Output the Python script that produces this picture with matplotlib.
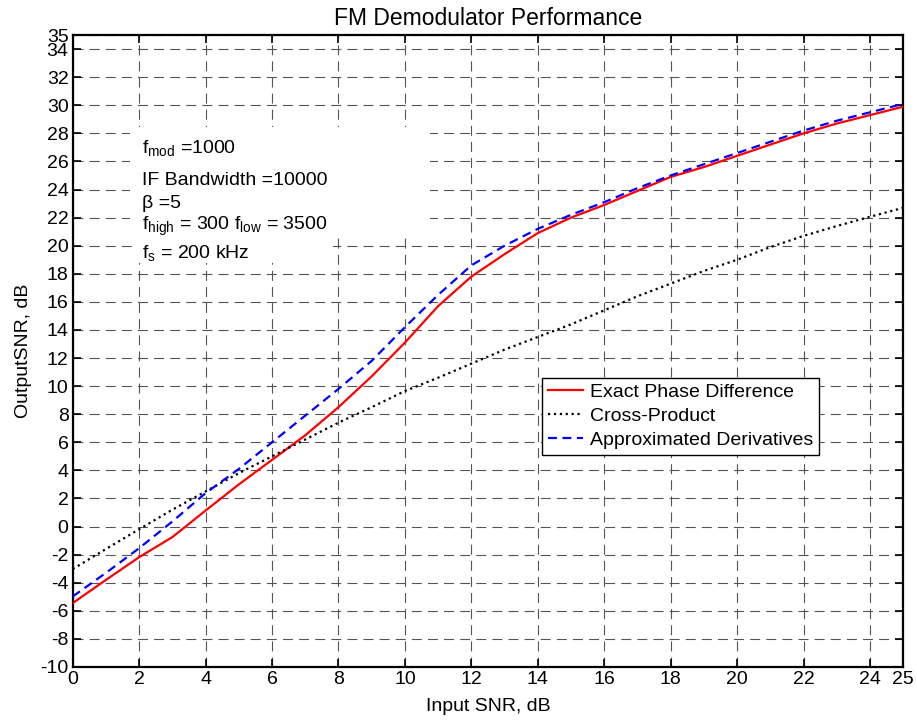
import matplotlib.pyplot as plt
from matplotlib.patches import Rectangle

plt.rcParams['font.family'] = ['Liberation Sans', 'DejaVu Sans']
plt.rcParams['mathtext.fontset'] = 'custom'
plt.rcParams['mathtext.rm'] = 'Liberation Sans'
plt.rcParams['mathtext.it'] = 'Liberation Sans'
plt.rcParams['axes.unicode_minus'] = False

# Data
input_snr = list(range(0, 26))
exact_phase = [-5.45, -3.8, -2.18, -0.75, 1.14, 3.0, 4.75, 6.5, 8.5, 10.7,
               13.1, 15.7, 17.8, 19.4, 20.9, 22.0, 22.9, 23.9, 24.9, 25.6,
               26.4, 27.2, 28.0, 28.7, 29.3, 29.9]
cross_product = [-3.03, -1.6, -0.19, 1.2, 2.5, 3.8, 5.0, 6.2, 7.4, 8.5,
                 9.65, 10.6, 11.6, 12.6, 13.5, 14.4, 15.4, 16.4, 17.3, 18.2,
                 19.0, 19.9, 20.7, 21.4, 22.06, 22.7]
approx_deriv = [-4.98, -3.3, -1.54, 0.36, 2.38, 4.1, 6.0, 7.9, 9.8, 11.8,
                14.2, 16.5, 18.6, 20.0, 21.2, 22.2, 23.1, 24.1, 25.0, 25.8,
                26.6, 27.4, 28.2, 28.9, 29.5, 30.1]

xticks = list(range(0, 25, 2)) + [25]
yticks = list(range(-10, 35, 2)) + [35]

fig = plt.figure(figsize=(9.17, 7.23), dpi=100)
ax = fig.add_axes([0.0793, 0.0775, 0.9057, 0.874])

ax.plot(input_snr, exact_phase, color='red', lw=1.6, label='Exact Phase Difference', zorder=3)
ax.plot(input_snr, cross_product, color='black', lw=1.6, ls=':', label='Cross-Product', zorder=3)
ax.plot(input_snr, approx_deriv, color='blue', lw=1.6, ls=(0, (4, 2.5)), label='Approximated Derivatives', zorder=3)

ax.set_xlim(0, 25)
ax.set_ylim(-10, 35)
ax.set_xticks(xticks)
ax.set_yticks(yticks)
ax.tick_params(direction='in', length=6, width=1.2, top=True, right=True, labelsize=14, pad=3)
for s in ax.spines.values():
    s.set_linewidth(1.6)
ax.grid(True, color='#555555', lw=0.8, ls=(0, (9, 5.5)), zorder=1)
ax.set_axisbelow(True)

# white area behind annotation text (covers grid)
ax.add_patch(Rectangle((0.069, 0.679), 0.361, 0.176, transform=ax.transAxes,
                       facecolor='white', edgecolor='none', zorder=1.5))
ax.add_patch(Rectangle((0.0774, 0.639), 0.236, 0.042, transform=ax.transAxes,
                       facecolor='white', edgecolor='none', zorder=1.5))

ann = ['f$_{\\mathrm{mod}}$ =1000', 'IF Bandwidth =10000', 'β =5',
       'f$_{\\mathrm{high}}$ = 300 f$_{\\mathrm{low}}$ = 3500',
       'f$_{\\mathrm{s}}$ = 200 kHz']
ann_y = [26.58, 24.32, 22.68, 21.12, 19.13]
for t, yy in zip(ann, ann_y):
    ax.text(2.08, yy, t, fontsize=14, va='baseline', ha='left', zorder=2)

leg = ax.legend(loc='upper right', bbox_to_anchor=(0.899, 0.458), fontsize=14,
                frameon=True, fancybox=False, edgecolor='black', framealpha=1,
                handlelength=1.8, borderpad=0.3, labelspacing=0.33, handletextpad=0.4,
                borderaxespad=0)
leg.get_frame().set_linewidth(1.0)

ax.set_title('FM Demodulator Performance', fontsize=16.5, pad=7)
ax.set_xlabel('Input SNR, dB', fontsize=14, labelpad=7)
ax.set_ylabel('OutputSNR, dB', fontsize=14, labelpad=6)

fig.savefig('out.png', dpi=100)
